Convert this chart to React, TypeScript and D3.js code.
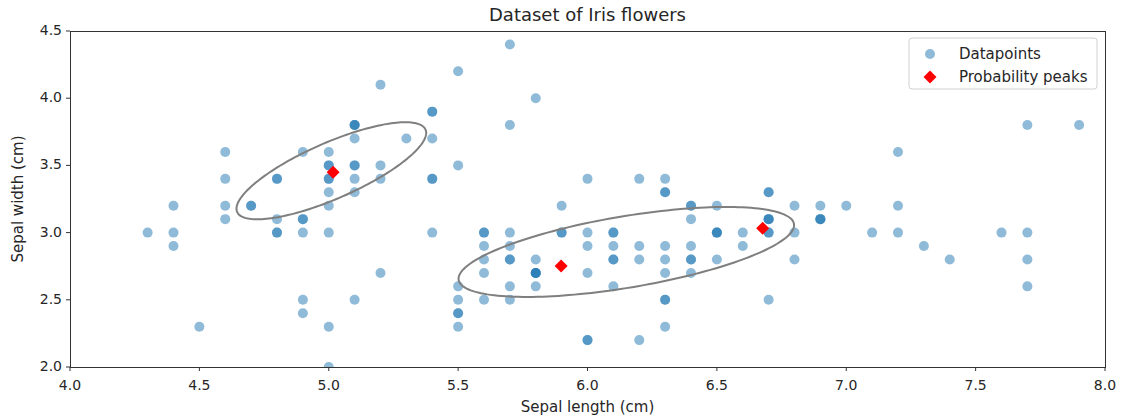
import React from "react";
import * as d3 from "d3";

// Iris sepal length / width (150 samples)
const sepalLength: number[] = [
  5.1,4.9,4.7,4.6,5.0,5.4,4.6,5.0,4.4,4.9,5.4,4.8,4.8,4.3,5.8,5.7,5.4,5.1,5.7,5.1,
  5.4,5.1,4.6,5.1,4.8,5.0,5.0,5.2,5.2,4.7,4.8,5.4,5.2,5.5,4.9,5.0,5.5,4.9,4.4,5.1,
  5.0,4.5,4.4,5.0,5.1,4.8,5.1,4.6,5.3,5.0,
  7.0,6.4,6.9,5.5,6.5,5.7,6.3,4.9,6.6,5.2,5.0,5.9,6.0,6.1,5.6,6.7,5.6,5.8,6.2,5.6,
  5.9,6.1,6.3,6.1,6.4,6.6,6.8,6.7,6.0,5.7,5.5,5.5,5.8,6.0,5.4,6.0,6.7,6.3,5.6,5.5,
  5.5,6.1,5.8,5.0,5.6,5.7,5.7,6.2,5.1,5.7,
  6.3,5.8,7.1,6.3,6.5,7.6,4.9,7.3,6.7,7.2,6.5,6.4,6.8,5.7,5.8,6.4,6.5,7.7,7.7,6.0,
  6.9,5.6,7.7,6.3,6.7,7.2,6.2,6.1,6.4,7.2,7.4,7.9,6.4,6.3,6.1,7.7,6.3,6.4,6.0,6.9,
  6.7,6.9,5.8,6.8,6.7,6.7,6.3,6.5,6.2,5.9,
];
const sepalWidth: number[] = [
  3.5,3.0,3.2,3.1,3.6,3.9,3.4,3.4,2.9,3.1,3.7,3.4,3.0,3.0,4.0,4.4,3.9,3.5,3.8,3.8,
  3.4,3.7,3.6,3.3,3.4,3.0,3.4,3.5,3.4,3.2,3.1,3.4,4.1,4.2,3.1,3.2,3.5,3.6,3.0,3.4,
  3.5,2.3,3.2,3.5,3.8,3.0,3.8,3.2,3.7,3.3,
  3.2,3.2,3.1,2.3,2.8,2.8,3.3,2.4,2.9,2.7,2.0,3.0,2.2,2.9,2.9,3.1,3.0,2.7,2.2,2.5,
  3.2,2.8,2.5,2.8,2.9,3.0,2.8,3.0,2.9,2.6,2.4,2.4,2.7,2.7,3.0,3.4,3.1,2.3,3.0,2.5,
  2.6,3.0,2.6,2.3,2.7,3.0,2.9,2.9,2.5,2.8,
  3.3,2.7,3.0,2.9,3.0,3.0,2.5,2.9,2.5,3.6,3.2,2.7,3.0,2.5,2.8,3.2,3.0,3.8,2.6,2.2,
  3.2,2.8,2.8,2.7,3.3,3.2,2.8,3.0,2.8,3.0,2.8,3.8,2.8,2.8,2.6,3.0,3.4,3.1,3.0,3.1,
  3.1,3.1,2.7,3.2,3.3,3.0,2.5,3.0,3.4,3.0,
];

// Probability peaks
const peakX: number[] = [5.017, 5.898, 6.677];
const peakY: number[] = [3.449, 2.751, 3.032];

// Ellipses: center and two conjugate semi-axis vectors in data units
const ellipseCenterX: number[] = [5.01, 6.15];
const ellipseCenterY: number[] = [3.46, 2.856];
const ellipseMajor: [number, number][] = [[0.364, 0.3065], [0.648, 0.2085]];
const ellipseMinor: [number, number][] = [[0.0432, -0.191], [0.0227, -0.262]];

const xTicks: number[] = [4.0, 4.5, 5.0, 5.5, 6.0, 6.5, 7.0, 7.5, 8.0];
const yTicks: number[] = [2.0, 2.5, 3.0, 3.5, 4.0, 4.5];

const title = "Dataset of Iris flowers";
const xLabel = "Sepal length (cm)";
const yLabel = "Sepal width (cm)";
const legendLabels = ["Datapoints", "Probability peaks"];

export default function App() {
  const W = 1122, H = 419;
  const L = 70, R = 1105, T = 31, B = 367;
  const x = d3.scaleLinear().domain([4, 8]).range([L, R]);
  const y = d3.scaleLinear().domain([2, 4.5]).range([B, T]);
  const fmt = d3.format(".1f");
  const font = "DejaVu Sans, sans-serif";
  const textColor = "#262626";

  const line = d3.line<[number, number]>().x((d) => x(d[0])).y((d) => y(d[1])).curve(d3.curveLinearClosed);
  const ellipsePaths = ellipseCenterX.map((cx, i) => {
    const cy = ellipseCenterY[i];
    const [ux, uy] = ellipseMajor[i];
    const [vx, vy] = ellipseMinor[i];
    const pts: [number, number][] = d3.range(0, 360, 2).map((deg) => {
      const t = (deg * Math.PI) / 180;
      return [cx + ux * Math.cos(t) + vx * Math.sin(t), cy + uy * Math.cos(t) + vy * Math.sin(t)];
    });
    return line(pts) as string;
  });

  const diamond = (cx: number, cy: number, r: number) =>
    `M${cx},${cy - r}L${cx + r},${cy}L${cx},${cy + r}L${cx - r},${cy}Z`;

  return (
    <svg width={W} height={H} style={{ position: "absolute", left: 0, top: 0, background: "#fff" }}>
      <rect x={0} y={0} width={W} height={H} fill="#fff" />
      <defs>
        <clipPath id="plotClip">
          <rect x={L} y={T} width={R - L} height={B - T} />
        </clipPath>
      </defs>
      <g clipPath="url(#plotClip)">
        {sepalLength.map((sl, i) => (
          <circle key={i} cx={x(sl)} cy={y(sepalWidth[i])} r={5} fill="#1f77b4" fillOpacity={0.5} />
        ))}
        {ellipsePaths.map((d, i) => (
          <path key={i} d={d} fill="none" stroke="#7f7f7f" strokeWidth={2} />
        ))}
        {peakX.map((px, i) => (
          <path key={i} d={diamond(x(px), y(peakY[i]), 6.5)} fill="#ff0000" />
        ))}
      </g>
      {/* spines */}
      <rect x={L} y={T} width={R - L} height={B - T} fill="none" stroke="#333" strokeWidth={1} shapeRendering="crispEdges" />
      {/* x ticks */}
      {xTicks.map((t) => (
        <g key={t}>
          <line x1={x(t)} x2={x(t)} y1={B} y2={B + 4} stroke="#333" />
          <text x={x(t)} y={386} textAnchor="middle" dominantBaseline="middle" fontSize={14} fontFamily={font} fill={textColor}>
            {fmt(t)}
          </text>
        </g>
      ))}
      {yTicks.map((t) => (
        <g key={t}>
          <line x1={L - 4} x2={L} y1={y(t)} y2={y(t)} stroke="#333" />
          <text x={L - 8} y={y(t)} textAnchor="end" dominantBaseline="middle" fontSize={14} fontFamily={font} fill={textColor}>
            {fmt(t)}
          </text>
        </g>
      ))}
      <text x={(L + R) / 2} y={16} textAnchor="middle" dominantBaseline="middle" fontSize={18} fontFamily={font} fill={textColor}>
        {title}
      </text>
      <text x={(L + R) / 2} y={407} textAnchor="middle" dominantBaseline="middle" fontSize={15} fontFamily={font} fill={textColor}>
        {xLabel}
      </text>
      <text transform={`translate(18,${(T + B) / 2}) rotate(-90)`} textAnchor="middle" dominantBaseline="middle" fontSize={15} fontFamily={font} fill={textColor}>
        {yLabel}
      </text>
      {/* legend */}
      <rect x={909} y={38} width={188} height={51} rx={3} fill="#fff" fillOpacity={0.8} stroke="#d0d0d0" />
      <circle cx={930} cy={54} r={5} fill="#1f77b4" fillOpacity={0.5} />
      <path d={diamond(930, 77, 6.5)} fill="#ff0000" />
      <text x={959} y={54} dominantBaseline="middle" fontSize={15} fontFamily={font} fill={textColor}>{legendLabels[0]}</text>
      <text x={959} y={77} dominantBaseline="middle" fontSize={15} fontFamily={font} fill={textColor}>{legendLabels[1]}</text>
    </svg>
  );
}
